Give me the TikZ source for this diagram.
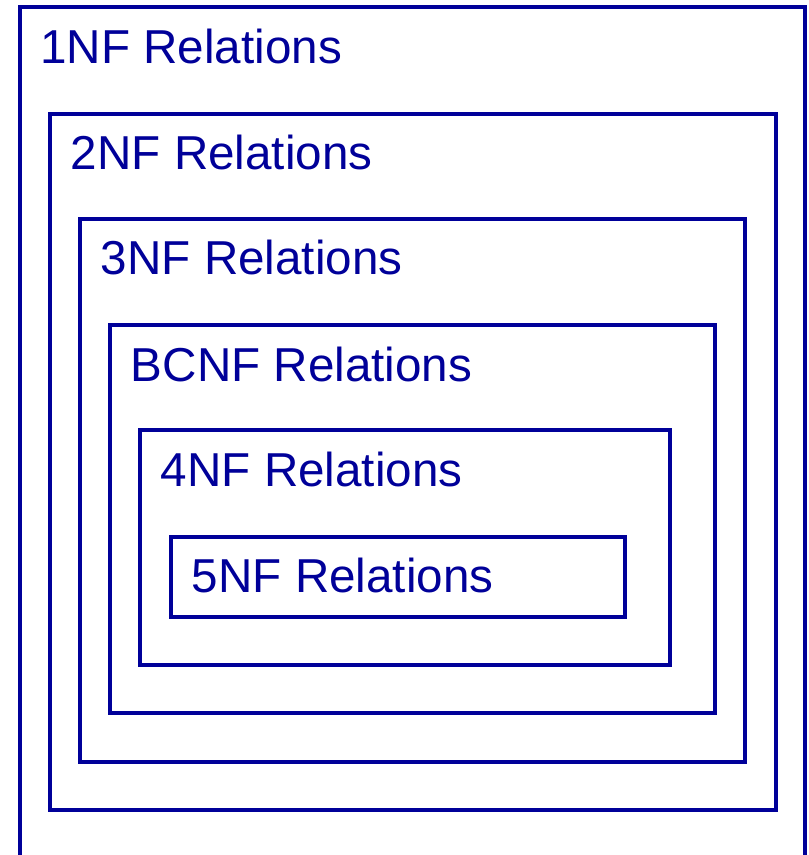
\documentclass[tikz,border=0pt]{standalone}
\usepackage{fontspec}
\setmainfont{Liberation Sans}
\definecolor{setblue}{RGB}{0,0,153}

\begin{document}
\begin{tikzpicture}[x=0.5pt, y=-0.5pt]
    \tikzset{setbox/.style = {draw=setblue, line width=2pt},
             setlabel/.style = {anchor=base west, inner sep=0pt, text=setblue,
                                font=\fontsize{23.8}{28}\selectfont}
            }
    \useasboundingbox (0,0) rectangle (808,855);
    % nested boxes, outermost first
    \foreach \name/\lx/\ty/\rx/\by/\txt in {nfone/19.5/7.5/805/858/1NF,
                                            nftwo/50/114/775.5/809.5/2NF,
                                            nfthree/80/219/745/761.5/3NF,
                                            bcnf/110/325/715/713/BCNF,
                                            nffour/140/430/670/665/4NF,
                                            nffive/171/536.5/624.5/616.5/5NF}
    {
        \draw[setbox] (\lx,\ty) rectangle (\rx,\by);
        \node (\name) [setlabel] at (\lx+20.5,\ty+56) {\txt\ Relations};
    }
\end{tikzpicture}
\end{document}
